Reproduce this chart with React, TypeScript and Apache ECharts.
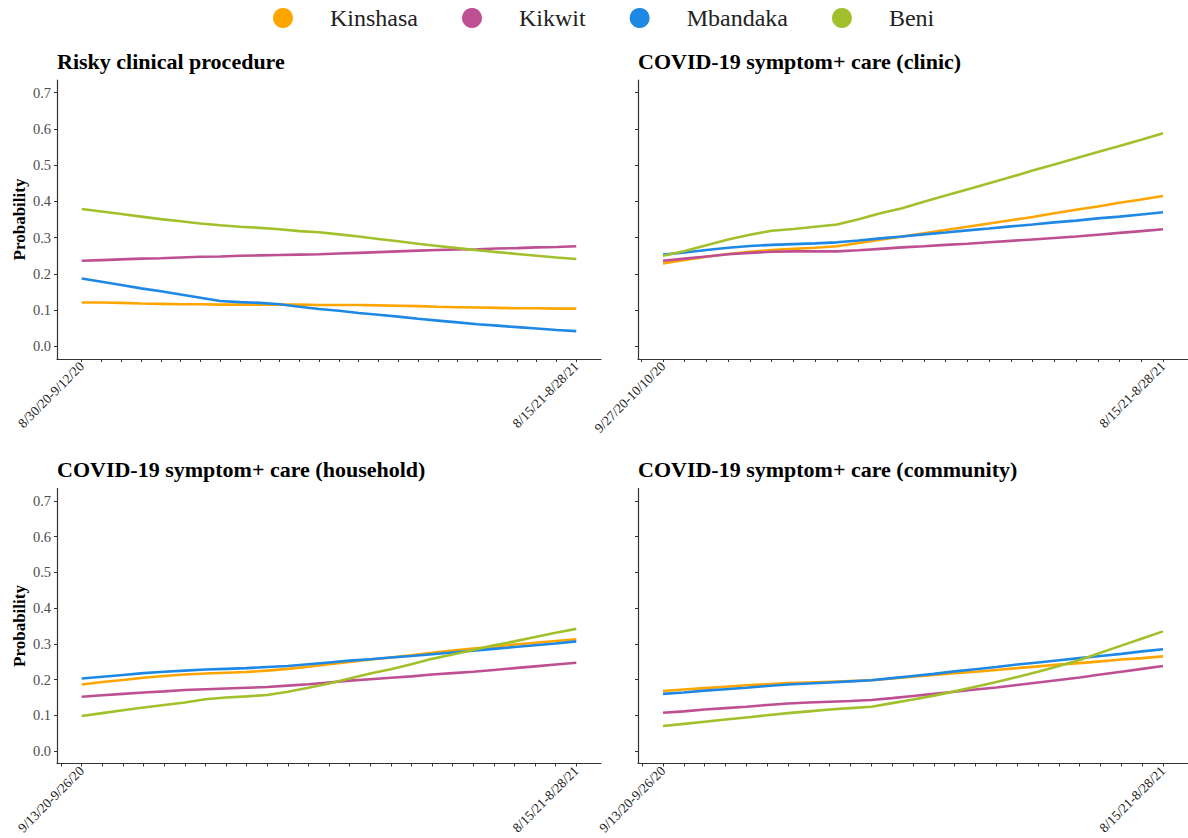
import React, { useEffect, useRef } from "react";
import * as echarts from "echarts";

const seriesNames = ["Kinshasa", "Kikwit", "Mbandaka", "Beni"];
const seriesColors = ["#FFA500", "#BE4F93", "#1E88E5", "#A2C02B"];

const yTickValues = [0, 0.1, 0.2, 0.3, 0.4, 0.5, 0.6, 0.7];

const panelTitles = [
  "Risky clinical procedure",
  "COVID-19 symptom+ care (clinic)",
  "COVID-19 symptom+ care (household)",
  "COVID-19 symptom+ care (community)",
];

const riskyPeriods = ["8/30/20-9/12/20", "8/15/21-8/28/21"];
const clinicPeriods = ["9/27/20-10/10/20", "8/15/21-8/28/21"];
const householdPeriods = ["9/13/20-9/26/20", "8/15/21-8/28/21"];
const communityPeriods = ["9/13/20-9/26/20", "8/15/21-8/28/21"];

// Risky clinical procedure (26 two-week periods)
const riskyKinshasa = [0.121, 0.121, 0.12, 0.118, 0.117, 0.116, 0.116, 0.115, 0.115, 0.115, 0.115, 0.115, 0.114, 0.114, 0.114, 0.113, 0.112, 0.111, 0.109, 0.108, 0.107, 0.106, 0.105, 0.105, 0.104, 0.104];
const riskyKikwit = [0.236, 0.238, 0.24, 0.242, 0.243, 0.245, 0.247, 0.248, 0.25, 0.251, 0.252, 0.253, 0.254, 0.256, 0.258, 0.26, 0.262, 0.264, 0.266, 0.267, 0.268, 0.27, 0.271, 0.273, 0.274, 0.276];
const riskyMbandaka = [0.187, 0.178, 0.169, 0.16, 0.152, 0.143, 0.134, 0.125, 0.122, 0.12, 0.116, 0.109, 0.103, 0.098, 0.092, 0.087, 0.082, 0.076, 0.071, 0.066, 0.061, 0.057, 0.053, 0.049, 0.045, 0.042];
const riskyBeni = [0.379, 0.372, 0.365, 0.358, 0.351, 0.345, 0.339, 0.334, 0.33, 0.327, 0.323, 0.318, 0.315, 0.309, 0.303, 0.296, 0.29, 0.283, 0.277, 0.271, 0.265, 0.26, 0.255, 0.25, 0.245, 0.241];

// Clinic (24 periods)
const clinicKinshasa = [0.229, 0.238, 0.247, 0.255, 0.261, 0.266, 0.269, 0.272, 0.276, 0.285, 0.294, 0.303, 0.312, 0.321, 0.33, 0.339, 0.348, 0.357, 0.367, 0.377, 0.386, 0.396, 0.405, 0.415];
const clinicKikwit = [0.236, 0.242, 0.248, 0.254, 0.258, 0.261, 0.262, 0.262, 0.262, 0.265, 0.269, 0.273, 0.276, 0.28, 0.283, 0.287, 0.291, 0.295, 0.299, 0.303, 0.308, 0.313, 0.318, 0.323];
const clinicMbandaka = [0.253, 0.259, 0.266, 0.272, 0.277, 0.28, 0.282, 0.284, 0.287, 0.292, 0.298, 0.303, 0.309, 0.314, 0.32, 0.325, 0.331, 0.336, 0.342, 0.347, 0.353, 0.358, 0.364, 0.37];
const clinicBeni = [0.25, 0.263, 0.279, 0.295, 0.308, 0.319, 0.324, 0.33, 0.336, 0.351, 0.367, 0.381, 0.399, 0.416, 0.433, 0.45, 0.467, 0.485, 0.502, 0.519, 0.536, 0.553, 0.57, 0.588];

// Household (25 periods)
const householdKinshasa = [0.186, 0.193, 0.199, 0.205, 0.21, 0.214, 0.217, 0.219, 0.221, 0.225, 0.23, 0.236, 0.243, 0.249, 0.256, 0.262, 0.268, 0.275, 0.281, 0.287, 0.292, 0.298, 0.303, 0.308, 0.313];
const householdKikwit = [0.152, 0.156, 0.16, 0.164, 0.167, 0.171, 0.173, 0.175, 0.177, 0.179, 0.183, 0.187, 0.192, 0.197, 0.201, 0.205, 0.209, 0.214, 0.218, 0.222, 0.227, 0.232, 0.237, 0.242, 0.247];
const householdMbandaka = [0.203, 0.208, 0.213, 0.218, 0.222, 0.225, 0.228, 0.23, 0.232, 0.235, 0.238, 0.243, 0.248, 0.253, 0.257, 0.262, 0.266, 0.271, 0.276, 0.281, 0.286, 0.291, 0.296, 0.301, 0.307];
const householdBeni = [0.098, 0.106, 0.114, 0.122, 0.129, 0.136, 0.145, 0.15, 0.153, 0.157, 0.166, 0.177, 0.189, 0.203, 0.217, 0.229, 0.243, 0.258, 0.27, 0.283, 0.296, 0.307, 0.319, 0.331, 0.342];

// Community (25 periods)
const communityKinshasa = [0.168, 0.172, 0.176, 0.18, 0.184, 0.187, 0.19, 0.192, 0.194, 0.196, 0.198, 0.203, 0.208, 0.213, 0.218, 0.222, 0.227, 0.232, 0.237, 0.242, 0.246, 0.251, 0.256, 0.26, 0.265];
const communityKikwit = [0.107, 0.111, 0.116, 0.12, 0.124, 0.129, 0.133, 0.136, 0.138, 0.14, 0.143, 0.148, 0.154, 0.16, 0.166, 0.172, 0.178, 0.185, 0.192, 0.199, 0.206, 0.214, 0.222, 0.23, 0.238];
const communityMbandaka = [0.16, 0.164, 0.169, 0.173, 0.177, 0.182, 0.186, 0.189, 0.192, 0.195, 0.198, 0.204, 0.21, 0.216, 0.223, 0.229, 0.235, 0.242, 0.248, 0.254, 0.26, 0.266, 0.272, 0.279, 0.285];
const communityBeni = [0.07, 0.076, 0.082, 0.088, 0.094, 0.1, 0.106, 0.111, 0.116, 0.12, 0.124, 0.134, 0.144, 0.155, 0.167, 0.18, 0.193, 0.207, 0.222, 0.238, 0.255, 0.275, 0.295, 0.315, 0.335];

const panelPeriods = [riskyPeriods, clinicPeriods, householdPeriods, communityPeriods];
const panelData = [
  [riskyKinshasa, riskyKikwit, riskyMbandaka, riskyBeni],
  [clinicKinshasa, clinicKikwit, clinicMbandaka, clinicBeni],
  [householdKinshasa, householdKikwit, householdMbandaka, householdBeni],
  [communityKinshasa, communityKikwit, communityMbandaka, communityBeni],
];
// whether an extra break tick appears one period before the first period
const panelLeadTick = [false, true, true, true];

const FONT = "'Liberation Serif', 'Times New Roman', serif";
const AXIS_COLOR = "#333333";

const gridBoxes = [
  { left: 57, top: 80, width: 544, height: 279 },
  { left: 638, top: 80, width: 571, height: 279 },
  { left: 57, top: 488.5, width: 544, height: 275 },
  { left: 638, top: 488.5, width: 571, height: 275 },
];
const titleBoxes = [
  { left: 57, top: 50 },
  { left: 638, top: 50 },
  { left: 57, top: 458 },
  { left: 638, top: 458 },
];

function buildOption() {
  const grid = gridBoxes.map((g) => ({ ...g, containLabel: false }));
  const title = panelTitles.map((t, i) => ({
    text: t,
    left: titleBoxes[i].left,
    top: titleBoxes[i].top,
    padding: 0,
    textStyle: { fontSize: 22, fontWeight: "bold", fontFamily: FONT, color: "#000" },
  }));
  const xAxis = panelData.map((d, i) => {
    const n = d[0].length;
    const ticks: number[] = [];
    if (panelLeadTick[i]) ticks.push(-1);
    for (let k = 0; k < n; k++) ticks.push(k);
    const labels = panelPeriods[i];
    return {
      type: "value",
      gridIndex: i,
      min: -0.05 * (n - 1),
      max: 1.05 * (n - 1),
      axisLine: { show: true, onZero: false, lineStyle: { color: AXIS_COLOR, width: 1.2 } },
      axisTick: { show: true, length: 3, customValues: ticks, lineStyle: { color: AXIS_COLOR } },
      axisLabel: {
        show: true,
        customValues: [0, n - 1],
        formatter: (v: number) => (Math.round(v) === 0 ? labels[0] : labels[1]),
        rotate: 45,
        fontSize: 13.5,
        fontFamily: FONT,
        color: "#222",
        margin: 5,
      },
      splitLine: { show: false },
    };
  });
  const yAxis = panelData.map((_, i) => {
    const isLeft = i % 2 === 0;
    return {
      type: "value",
      gridIndex: i,
      min: -0.035,
      max: 0.735,
      name: isLeft ? "Probability" : "",
      nameLocation: "middle",
      nameGap: 29,
      nameTextStyle: { fontSize: 17, fontWeight: "bold", fontFamily: FONT, color: "#000" },
      axisLine: { show: true, onZero: false, lineStyle: { color: AXIS_COLOR, width: 1.2 } },
      axisTick: { show: true, length: 3, customValues: yTickValues, lineStyle: { color: AXIS_COLOR } },
      axisLabel: {
        show: isLeft,
        customValues: yTickValues,
        formatter: (v: number) => v.toFixed(1),
        fontSize: 14.5,
        fontFamily: FONT,
        color: "#4d4d4d",
        margin: 6,
      },
      splitLine: { show: false },
    };
  });
  const series: any[] = [];
  panelData.forEach((group, i) => {
    group.forEach((arr, s) => {
      series.push({
        type: "line",
        name: seriesNames[s],
        xAxisIndex: i,
        yAxisIndex: i,
        data: arr.map((v, k) => [k, v]),
        showSymbol: false,
        symbol: "none",
        smooth: false,
        lineStyle: { width: 2.6, color: seriesColors[s] },
        itemStyle: { color: seriesColors[s] },
      });
    });
  });
  return {
    animation: false,
    backgroundColor: "#ffffff",
    title,
    legend: {
      data: seriesNames,
      left: 273,
      top: 6,
      padding: 0,
      icon: "circle",
      itemWidth: 20,
      itemHeight: 22,
      itemGap: 44,
      textStyle: { fontSize: 24, fontFamily: FONT, color: "#222", padding: [0, 0, 0, 32] },
    },
    grid,
    xAxis,
    yAxis,
    series,
  };
}

export default function App() {
  const ref = useRef<HTMLDivElement>(null);
  useEffect(() => {
    if (!ref.current) return;
    const chart = echarts.init(ref.current, undefined, { renderer: "svg" });
    chart.setOption(buildOption() as any);
    return () => chart.dispose();
  }, []);
  return (
    <div
      ref={ref}
      style={{ position: "fixed", left: 0, top: 0, width: 1188, height: 838, background: "#fff" }}
    />
  );
}
